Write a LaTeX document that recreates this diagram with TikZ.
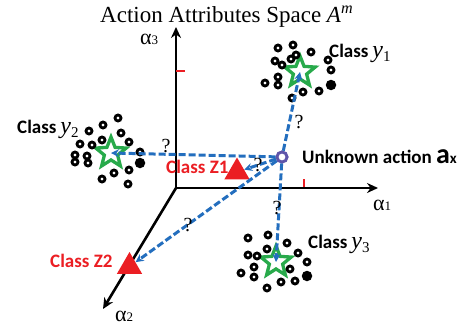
\documentclass[tikz,border=0pt]{standalone}
\usepackage{fontspec}
\setmainfont{Liberation Serif}
\newfontfamily\carlito{Carlito}
\usetikzlibrary{arrows.meta,shapes.geometric}
\definecolor{qblue}{RGB}{35,110,190}
\definecolor{sgreen}{RGB}{40,170,75}
\definecolor{tred}{RGB}{235,30,35}
\definecolor{upurple}{RGB}{95,85,170}
\tikzset{
  axis/.style={line width=2.6pt, -{Stealth[length=11pt,width=10pt]}},
  ticky/.style={tred, line width=2.6pt},
  ring/.style={circle, draw=black, line width=2.8pt, fill=white, minimum size=6pt, inner sep=0pt},
  solid dot/.style={circle, fill=black, minimum size=10.5pt, inner sep=0pt},
  clsstar/.style={star, star points=5, star point ratio=2.3, draw=sgreen, line width=3.3pt, fill=white, minimum size=32pt, inner sep=0pt},
  clstri/.style={regular polygon, regular polygon sides=3, fill=tred, minimum size=29pt, inner sep=0pt},
  qarrow/.style={qblue, line width=3pt, dash pattern=on 7pt off 3pt, -{Stealth[length=8pt,width=8pt]}},
  qmark/.style={font=\fontsize{20}{20}\selectfont, inner sep=0pt},
  clslab/.style={anchor=base west, inner sep=0pt},
  redlab/.style={anchor=base west, inner sep=0pt, text=tred, font=\carlito\bfseries\fontsize{19}{19}\selectfont},
  alab/.style={anchor=base west, inner sep=0pt, text height=10pt, text depth=0pt, font=\fontsize{22}{22}\selectfont},
}
\newcommand\clsy[1]{{\carlito\bfseries\fontsize{19}{19}\selectfont Class}\hspace{4pt}{\fontsize{24}{24}\selectfont\itshape y}{\fontsize{15}{15}\selectfont\raisebox{-4pt}{#1}}}
\begin{document}
\begin{tikzpicture}[x=1pt,y=-1pt]
\useasboundingbox (0,0) rectangle (465,329);
% title
\node[anchor=base west, inner sep=0pt, font=\fontsize{23}{23}\selectfont] (title) at (100,22.5) {Action Attributes Space {\itshape A}\textsuperscript{\itshape m}};
% axes
\coordinate (O) at (176,188);
\coordinate (e1) at (378,188);
\coordinate (e2) at (103,309);
\coordinate (e3) at (176,27);
\draw[axis] (O) -- (e3);
\draw[axis] (O) -- (e1);
\draw[axis] (O) -- (e2);
\draw[ticky] (176,71) -- (185,71);
\draw[ticky] (304,179) -- (304,187);
\node[alab] (l3) at (140,45) {α{\fontsize{13}{13}\selectfont 3}};
\node[alab] (l1) at (373,210) {α{\fontsize{13}{13}\selectfont 1}};
\node[alab] (l2) at (115,321) {α{\fontsize{13}{13}\selectfont 2}};
% stars
\node[clsstar] (s1) at (300,72) {};
\node[clsstar] (s2) at (111,153) {};
\node[clsstar] (s3) at (276,262) {};
% dots
\foreach \x/\y [count=\i] in {278/48, 293/45, 311/52, 275/61, 282/65, 291/59, 296/55, 328/60, 331/70, 278/77, 265/83, 278/85, 303/92, 319/91, 292/98}
  \node[ring] (da\i) at (\x,\y) {};
\node[solid dot] (dA) at (331,85) {};
\foreach \x/\y [count=\i] in {118/118, 103/125, 89/131, 121/133, 102/140, 80/144, 92/145, 129/142, 75/155, 87/156, 75/162, 88/163, 140/152, 114/173, 129/170, 102/179, 128/184}
  \node[ring] (db\i) at (\x,\y) {};
\node[solid dot] (dB) at (140,163) {};
\foreach \x/\y [count=\i] in {248/238, 268/235, 287/243, 248/255, 257/256, 267/249, 298/253, 307/262, 254/267, 241/273, 254/277, 290/269, 295/281, 281/282, 267/288}
  \node[ring] (dc\i) at (\x,\y) {};
\node[solid dot] (dC) at (307,276) {};
% triangles
\node[clstri] (z1) at (237,172) {};
\node[clstri] (z2) at (129.5,266.5) {};
% unknown action
\node[circle, draw=upurple, line width=2.8pt, fill=white, minimum size=10pt, inner sep=0pt] (ux) at (282,157) {};
% arrows
\draw[qarrow] (ux) -- (s1.center);
\draw[qarrow] (ux) -- (s2.center);
\draw[qarrow] (ux) -- (z1);
\draw[qarrow] (ux) -- (z2);
\draw[qarrow] (ux) -- (s3.center);
\node[circle, draw=upurple, line width=2.8pt, fill=white, minimum size=10pt, inner sep=0pt] (ux2) at (ux) {};
% question marks
\node[qmark] (q1) at (299,122) {?};
\node[qmark] (q2) at (166,146) {?};
\node[qmark] (q3) at (258,165) {?};
\node[qmark] (q4) at (188,225) {?};
\node[qmark] (q5) at (277,208) {?};
% labels
\node[clslab] (c1) at (329,57) {\clsy{1}};
\node[clslab] (c2) at (17,133) {\clsy{2}};
\node[clslab] (c3) at (308,248) {\clsy{3}};
\node[redlab] (cz1) at (166,173) {Class Z1};
\node[redlab] (cz2) at (50,267) {Class Z2};
\node[anchor=base west, inner sep=0pt, font=\carlito\bfseries\fontsize{19}{19}\selectfont] (ul) at (302,163) {Unknown action {\fontsize{28}{28}\selectfont a}{\fontsize{15}{15}\selectfont x}};
\end{tikzpicture}
\end{document}
